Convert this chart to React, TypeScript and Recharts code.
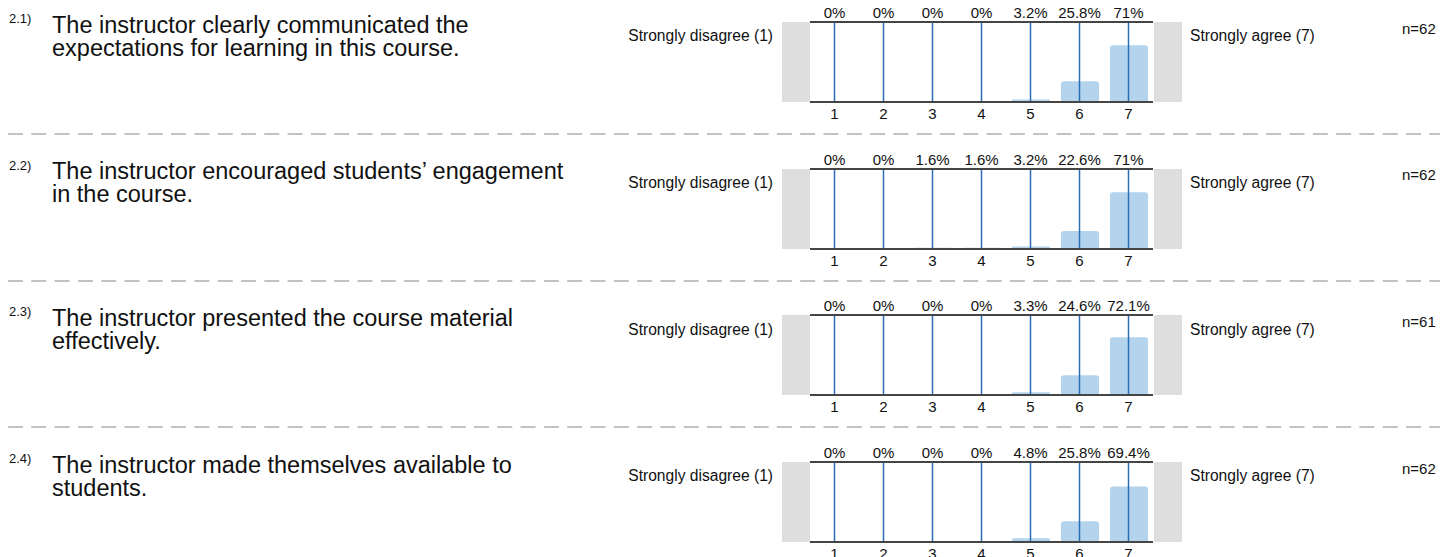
import React from "react";
import { BarChart, Bar, XAxis, YAxis, ReferenceLine } from "recharts";

const categories = ["1", "2", "3", "4", "5", "6", "7"];

const questionNumbers = ["2.1)", "2.2)", "2.3)", "2.4)"];
const questionLines = [
  ["The instructor clearly communicated the", "expectations for learning in this course."],
  ["The instructor encouraged students’ engagement", "in the course."],
  ["The instructor presented the course material", "effectively."],
  ["The instructor made themselves available to", "students."],
];

const q1Values = [0, 0, 0, 0, 3.2, 25.8, 71];
const q2Values = [0, 0, 1.6, 1.6, 3.2, 22.6, 71];
const q3Values = [0, 0, 0, 0, 3.3, 24.6, 72.1];
const q4Values = [0, 0, 0, 0, 4.8, 25.8, 69.4];

const q1Labels = ["0%", "0%", "0%", "0%", "3.2%", "25.8%", "71%"];
const q2Labels = ["0%", "0%", "1.6%", "1.6%", "3.2%", "22.6%", "71%"];
const q3Labels = ["0%", "0%", "0%", "0%", "3.3%", "24.6%", "72.1%"];
const q4Labels = ["0%", "0%", "0%", "0%", "4.8%", "25.8%", "69.4%"];

const nCounts = ["n=62", "n=62", "n=61", "n=62"];
const lowAnchor = "Strongly disagree (1)";
const highAnchor = "Strongly agree (7)";

const allValues = [q1Values, q2Values, q3Values, q4Values];
const allLabels = [q1Labels, q2Labels, q3Labels, q4Labels];

const FONT = "'Liberation Sans', Arial, sans-serif";
const ROW_H = 146.67;
const PLOT_LEFT = 810;
const PLOT_W = 343;
const TOP_AXIS_H = 22;
const PLOT_H = 80;
const BOTTOM_AXIS_H = 22;

function RowChart({ values, labels }: { values: number[]; labels: string[] }) {
  const data = categories.map((cat, i) => ({ cat, value: values[i] }));
  const tickStyle = { fontSize: 15, fill: "#111", fontFamily: FONT };
  return (
    <BarChart
      width={PLOT_W}
      height={TOP_AXIS_H + PLOT_H + BOTTOM_AXIS_H}
      data={data}
      margin={{ top: 0, right: 0, left: 0, bottom: 0 }}
    >
      <XAxis
        dataKey="cat"
        axisLine={{ stroke: "#454545", strokeWidth: 2 }}
        tickLine={false}
        tickSize={4}
        height={BOTTOM_AXIS_H}
        tick={tickStyle}
        interval={0}
      />
      <XAxis
        xAxisId="top"
        dataKey="cat"
        orientation="top"
        axisLine={{ stroke: "#454545", strokeWidth: 2 }}
        tickLine={false}
        tickSize={2}
        tickMargin={2}
        height={TOP_AXIS_H}
        tick={tickStyle}
        interval={0}
        tickFormatter={(_v: string, i: number) => labels[i]}
      />
      <YAxis hide domain={[0, 100]} />
      <Bar
        dataKey="value"
        fill="#b3d4ec"
        barSize={38}
        radius={[3, 3, 0, 0]}
        isAnimationActive={false}
      />
      {categories.map((c) => (
        <ReferenceLine key={c} x={c} stroke="#2a6cb6" strokeWidth={1.5} />
      ))}
    </BarChart>
  );
}

export default function App() {
  return (
    <div
      style={{
        position: "absolute",
        left: 0,
        top: 0,
        width: 1440,
        height: 557,
        background: "#fff",
        fontFamily: FONT,
        color: "#111",
        overflow: "hidden",
      }}
    >
      {questionNumbers.map((num, i) => {
        const y0 = i * ROW_H;
        return (
          <React.Fragment key={num}>
            <div
              style={{ position: "absolute", left: 9, top: y0 + 11, fontSize: 13, lineHeight: "15px" }}
            >
              {num}
            </div>
            <div
              style={{
                position: "absolute",
                left: 52,
                top: y0 + 13.5,
                fontSize: 23.5,
                lineHeight: "23.3px",
                whiteSpace: "nowrap",
              }}
            >
              {questionLines[i].map((line) => (
                <div key={line}>{line}</div>
              ))}
            </div>
            <div
              style={{
                position: "absolute",
                right: 1440 - 773,
                top: y0 + 28.4,
                fontSize: 15.6,
                lineHeight: "15.6px",
                whiteSpace: "nowrap",
                textAlign: "right",
              }}
            >
              {lowAnchor}
            </div>
            <div
              style={{
                position: "absolute",
                left: 782,
                top: y0 + 22,
                width: 28,
                height: PLOT_H,
                background: "#dedede",
              }}
            />
            <div
              style={{
                position: "absolute",
                left: 1154,
                top: y0 + 22,
                width: 28,
                height: PLOT_H,
                background: "#dedede",
              }}
            />
            <div style={{ position: "absolute", left: PLOT_LEFT, top: y0 }}>
              <RowChart values={allValues[i]} labels={allLabels[i]} />
            </div>
            <div
              style={{
                position: "absolute",
                left: 1190,
                top: y0 + 28.4,
                fontSize: 15.6,
                lineHeight: "15.6px",
                whiteSpace: "nowrap",
              }}
            >
              {highAnchor}
            </div>
            <div
              style={{
                position: "absolute",
                left: 1402,
                top: y0 + 20.5,
                fontSize: 15,
                lineHeight: "15px",
                whiteSpace: "nowrap",
              }}
            >
              {nCounts[i]}
            </div>
            {i < questionNumbers.length - 1 && (
              <svg
                width={1440}
                height={4}
                style={{ position: "absolute", left: 0, top: y0 + 132 }}
              >
                <line
                  x1={8}
                  x2={1440}
                  y1={2}
                  y2={2}
                  stroke="#c2c2c2"
                  strokeWidth={2}
                  strokeDasharray="15 8.3"
                />
              </svg>
            )}
          </React.Fragment>
        );
      })}
    </div>
  );
}
